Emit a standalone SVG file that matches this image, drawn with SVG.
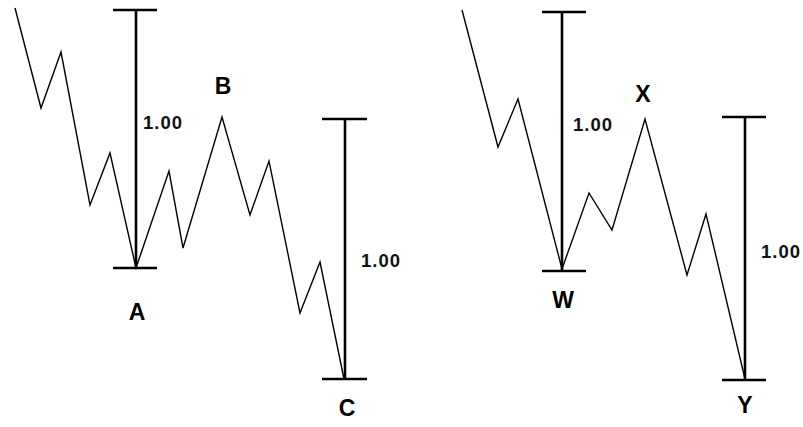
<svg xmlns="http://www.w3.org/2000/svg" width="803" height="427" viewBox="0 0 803 427">
<style>
.zz{fill:none;stroke:#000;stroke-width:1.4;stroke-linejoin:miter}
.bar{fill:none;stroke:#000;stroke-width:2.6}
.num{font-family:"Liberation Sans",Arial,sans-serif;font-size:18.5px;font-weight:bold;letter-spacing:1px;fill:#111}
.lbl{font-family:"Liberation Sans",Arial,sans-serif;font-size:23px;font-weight:bold;fill:#000;text-anchor:middle}
</style>
<rect width="803" height="427" fill="#fff"/>
<g id="connectors">
<polyline class="zz" points="15,8 41,108 61,52 90,205 110,153 136,268 169,171 183,248 222,117 250,215 269,161 300,313 320,262 344,379"/>
<polyline class="zz" points="462,10 498,147 518,99 562,269 589,193 612,230 645,119 687,275 706,214 745,379"/>
</g>
<g id="bar-A">
<path class="bar" d="M136,10V268M113,10H157M113,268H157"/>
<text class="num" x="143" y="129">1.00</text>
</g>
<g id="node-A"><text class="lbl" x="137" y="320">A</text></g>
<g id="node-B"><text class="lbl" x="223" y="94">B</text></g>
<g id="bar-C">
<path class="bar" d="M345,119V379M322,119H367M322,379H367"/>
<text class="num" x="361" y="267">1.00</text>
</g>
<g id="node-C"><text class="lbl" x="347" y="416">C</text></g>
<g id="bar-W">
<path class="bar" d="M562,12V271M542,12H586M542,271H586"/>
<text class="num" x="573" y="131">1.00</text>
</g>
<g id="node-W"><text class="lbl" x="563" y="308">W</text></g>
<g id="node-X"><text class="lbl" x="643" y="102">X</text></g>
<g id="bar-Y">
<path class="bar" d="M745,117V380M722,117H766M722,380H766"/>
<text class="num" x="761" y="258">1.00</text>
</g>
<g id="node-Y"><text class="lbl" x="745" y="413">Y</text></g>
</svg>
